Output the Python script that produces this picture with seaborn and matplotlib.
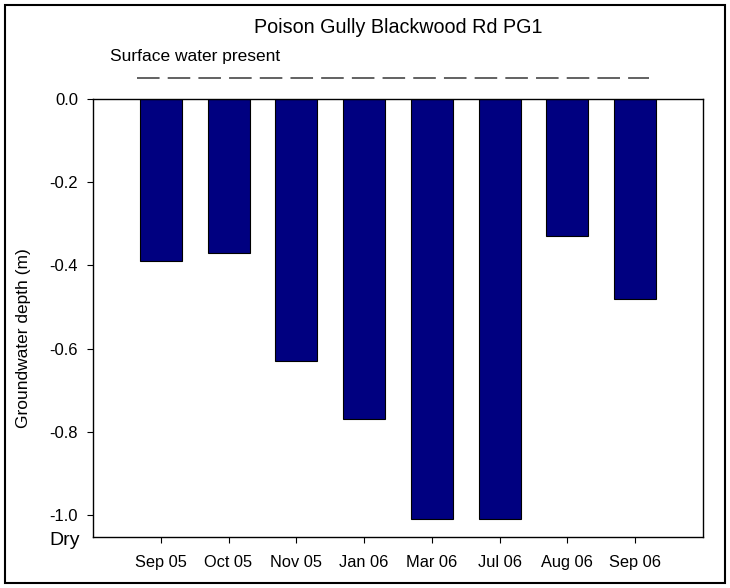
import numpy as np
import pandas as pd
import matplotlib.pyplot as plt
import matplotlib.patches as patches
import seaborn as sns

months = ["Sep 05", "Oct 05", "Nov 05", "Jan 06", "Mar 06", "Jul 06", "Aug 06", "Sep 06"]
depth = [-0.39, -0.37, -0.63, -0.77, -1.01, -1.01, -0.33, -0.48]
yticks = [0.0, -0.2, -0.4, -0.6, -0.8, -1.0]
surface_level = 0.05

sns.set_style("ticks")
plt.rcParams["font.family"] = ["Liberation Sans", "DejaVu Sans"]
plt.rcParams["axes.unicode_minus"] = False
plt.rcParams["text.color"] = "black"
plt.rcParams["axes.labelcolor"] = "black"
plt.rcParams["xtick.color"] = "black"
plt.rcParams["ytick.color"] = "black"

fig = plt.figure(figsize=(7.3, 5.88), dpi=100)
ax = fig.add_axes([0.1274, 0.0867, 0.963 - 0.1274, 0.8316 - 0.0867])

df = pd.DataFrame({"month": months, "depth": depth})
sns.barplot(data=df, x="month", y="depth", color="#000080", saturation=1,
            width=0.62, edgecolor="black", linewidth=0.8, ax=ax)

ax.set_xlim(-1, len(months))
ax.set_ylim(-1.053, 0)
ax.set_yticks(yticks)
ax.set_yticklabels([f"{v:.1f}" for v in yticks])
ax.set_xlabel("")
ax.set_ylabel("Groundwater depth (m)", fontsize=12.5)
ax.yaxis.set_label_coords(-0.102, 0.455)
ax.tick_params(axis="both", direction="out", length=4.3, width=0.8)
ax.tick_params(axis="x", labelsize=11.8, pad=8.5)
ax.tick_params(axis="y", labelsize=12, pad=6.5)
for s in ax.spines.values():
    s.set_linewidth(1)
    s.set_color("black")

# dry marker below -1.0
ax.text(-0.021, -1.0625, "Dry", transform=ax.get_yaxis_transform(),
        ha="right", va="center", fontsize=14)

# surface water indicator
ax.plot([-0.353, 7.206], [surface_level, surface_level], color="#555555", lw=1.3,
        dashes=(12.5, 4.5), clip_on=False)
ax.text(-0.75, surface_level + 0.052, "Surface water present", fontsize=12.5,
        ha="left", va="center", clip_on=False)

fig.text(0.545, 0.953, "Poison Gully Blackwood Rd PG1", ha="center", va="center", fontsize=14.2)

fig.patches.append(patches.Rectangle((0.0068, 0.0085), 0.9864, 0.983, transform=fig.transFigure,
                                     fill=False, edgecolor="black", linewidth=1.5))

fig.savefig("out.png", dpi=100)
